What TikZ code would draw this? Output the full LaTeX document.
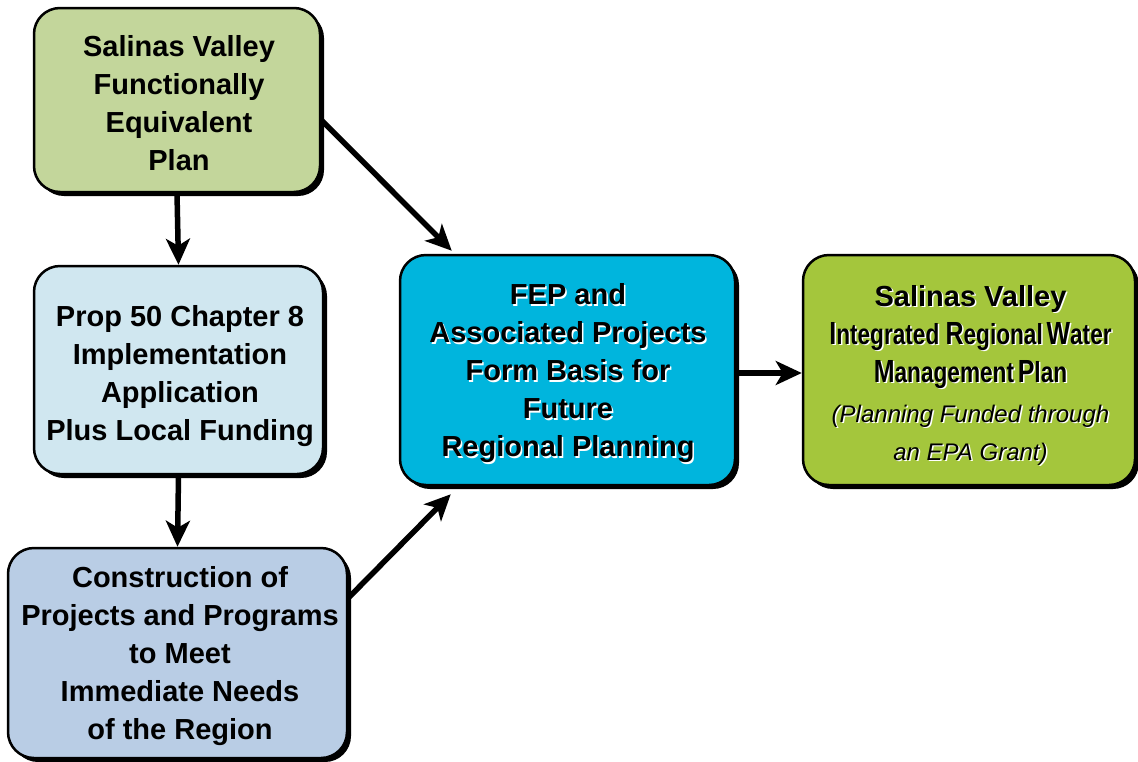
\documentclass[tikz,border=0pt]{standalone}
\usepackage{fontspec}
\setmainfont{Liberation Sans}
\usetikzlibrary{arrows.meta,shadows}
\definecolor{cgreenA}{RGB}{195,214,155}
\definecolor{cblueA}{RGB}{208,231,240}
\definecolor{cblueB}{RGB}{185,205,229}
\definecolor{ccyan}{RGB}{0,181,221}
\definecolor{cgreenB}{RGB}{164,198,60}
\tikzset{
  boxbase/.style={draw=black, line width=2.5pt, rounded corners=26pt,
    drop shadow={shadow xshift=4pt, shadow yshift=-4pt, opacity=1, fill=black}},
  btxt/.style={align=center, inner sep=0pt, font=\fontsize{29}{38}\selectfont\bfseries},
  wtxt/.style={btxt, text=white},
  arr/.style={line width=5.5pt, -{Stealth[length=26pt,width=24pt,inset=7pt]}}
}
\begin{document}
\begin{tikzpicture}[x=1pt,y=-1pt]
\useasboundingbox[fill=white] (0,0) rectangle (1138,761);
% boxes
\node[boxbase, fill=cgreenA, minimum width=286pt, minimum height=184pt] (b1) at (177,100) {};
\node[boxbase, fill=cblueA, minimum width=289pt, minimum height=208pt] (b2) at (178.5,370) {};
\node[boxbase, fill=cblueB, minimum width=339pt, minimum height=210pt] (b3) at (177.5,653) {};
\node[boxbase, fill=ccyan, minimum width=335pt, minimum height=230pt] (b4) at (567.5,370) {};
\node[boxbase, fill=cgreenB, minimum width=332pt, minimum height=230pt] (b5) at (969,370) {};
% texts
\node[btxt] (t1) at (179,103.5) {Salinas Valley\\Functionally\\Equivalent\\Plan};
\node[btxt] (t2) at (180,376) {Prop 50 Chapter 8\\Implementation\\Application\\Plus Local Funding};
\node[btxt] (t3) at (180,656) {Construction of\\Projects and Programs\\to Meet\\Immediate Needs\\of the Region};
\node[wtxt] (t4s) at (569.5,375) {FEP and\\Associated Projects\\Form Basis for\\Future\\Regional Planning};
\node[btxt] (t4) at (568,373.5) {FEP and\\Associated Projects\\Form Basis for\\Future\\Regional Planning};
\newcommand{\bigi}[1]{{\fontsize{32}{38}\selectfont #1}}
\newcommand{\fivetext}{Salinas Valley\\
  \scalebox{0.78}[1]{\bigi{I}ntegrated \bigi{R}egional\,\bigi{W}ater}\\
  \scalebox{0.78}[1]{\bigi{M}anagement\,\bigi{P}lan}\\[2pt]
  {\mdseries\itshape\fontsize{24}{38}\selectfont (Planning Funded through}\\
  {\mdseries\itshape\fontsize{24}{38}\selectfont an EPA Grant)}}
\node[wtxt] (t5s) at (972,376.5) {\fivetext};
\node[btxt] (t5) at (970.5,375) {\fivetext};
% arrows
\draw[arr] (b1.south) -- (b2.north);
\draw[arr] (b2.south) -- (b3.north);
\draw[arr] ([yshift=-20pt]b1.east) -- ([shift={(53pt,3pt)}]b4.north west);
\draw[arr] ([yshift=55pt]b3.east) -- ([shift={(52pt,-8pt)}]b4.south west);
\draw[arr] ([yshift=-3pt]b4.east) -- ([yshift=-3pt]b5.west);
\end{tikzpicture}
\end{document}
